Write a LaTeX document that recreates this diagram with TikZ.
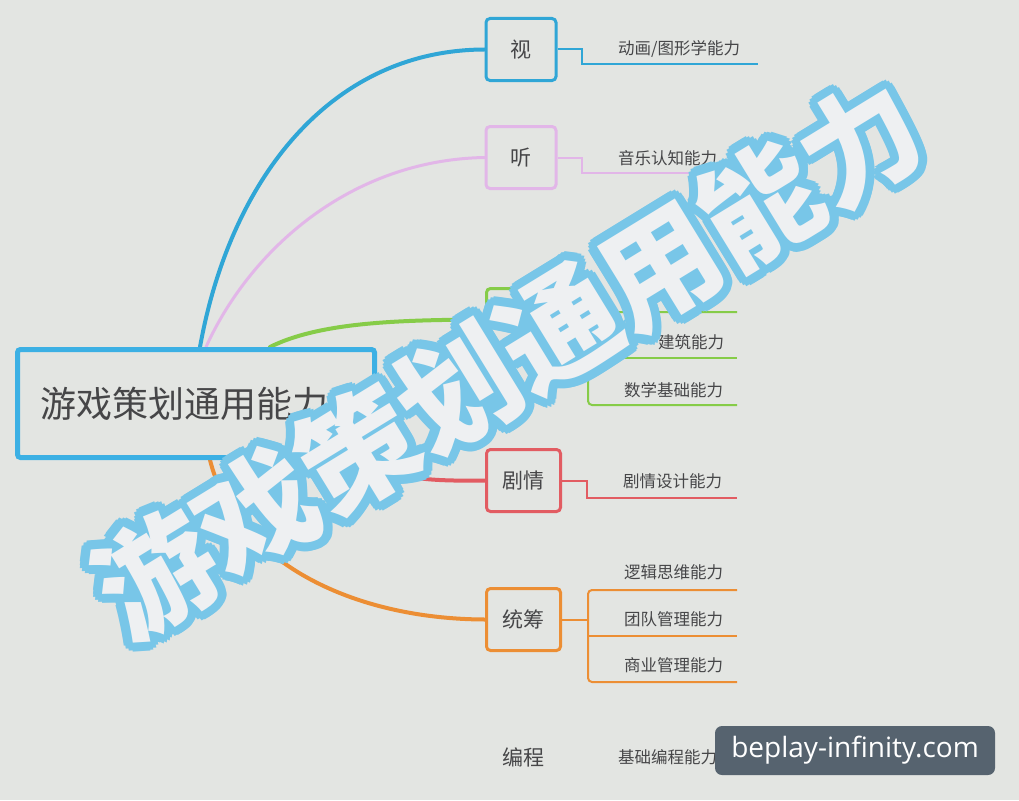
\documentclass[tikz,border=0pt]{standalone}
\usepackage{fontspec}
\setmainfont{Noto Sans CJK SC}
\newfontfamily\cjk{Noto Sans CJK SC}
\newfontfamily\badgefont{Open Sans}
\definecolor{bgc}{RGB}{227,229,226}
\definecolor{txt}{RGB}{70,70,72}
\definecolor{cblue}{RGB}{48,166,214}
\definecolor{croot}{RGB}{60,176,228}
\definecolor{cpink}{RGB}{226,182,232}
\definecolor{cgreen}{RGB}{134,204,72}
\definecolor{cred}{RGB}{226,92,98}
\definecolor{corange}{RGB}{236,142,52}
\definecolor{wmblue}{RGB}{120,198,232}
\definecolor{wmwhite}{RGB}{238,240,242}
\definecolor{badgec}{RGB}{86,99,111}
\pgfdeclarelayer{back}
\pgfsetlayers{back,main}
\tikzset{
  rootbox/.style={draw=croot, line width=5pt, rounded corners=3pt, fill=bgc, text=txt,
    font=\cjk\fontsize{36}{36}\selectfont, minimum width=357pt, minimum height=108pt, inner sep=0pt},
  branchbox/.style={draw=#1, line width=3pt, rounded corners=4pt, fill=bgc, text=txt,
    font=\cjk\fontsize{21}{21}\selectfont, minimum width=70pt, minimum height=62pt, inner sep=0pt},
  wideone/.style={minimum width=74pt},
  plainlabel/.style={text=txt, font=\cjk\fontsize{21}{21}\selectfont, inner sep=0pt},
  leaf/.style={text=txt, font=\cjk\fontsize{16.5}{16.5}\selectfont, inner sep=0pt, anchor=west},
  mainline/.style={draw=#1, line width=4pt, line cap=round},
  subline/.style={draw=#1, line width=2pt},
  wm/.style={font=\cjk\bfseries\fontsize{118}{118}\selectfont, inner sep=0pt, rotate=31.5},
  badge/.style={fill=badgec, rounded corners=7pt, text=white, font=\badgefont\fontsize{28}{28}\selectfont,
    minimum width=280pt, minimum height=49pt, inner sep=0pt}
}
\begin{document}
\begin{tikzpicture}[x=1pt,y=-1pt]
\useasboundingbox (0,0) rectangle (1019,800);

% root
\node[rootbox] (root) at (196,403.5) {\makebox[312pt][l]{游戏策划通用能力}};

% branch boxes
\node[branchbox=cblue] (shi) at (521,49.5) {视};
\node[branchbox=cpink] (ting) at (521,157.5) {听};
\node[branchbox=cgreen, wideone] (kong) at (523.5,319.5) {};
\node[branchbox=cred, wideone] (ju) at (523.5,480.5) {剧情};
\node[branchbox=corange, wideone] (tong) at (523.5,619.5) {统筹};
\node[plainlabel] (bian) at (523.5,757) {编程};

% leaf end coordinates
\coordinate (shiE) at (758,64);
\coordinate (tingE) at (737,173);
\coordinate (k1E) at (737,312);
\coordinate (k2E) at (737,358);
\coordinate (k3E) at (737,405);
\coordinate (juE) at (737,498);
\coordinate (t1E) at (737,590);
\coordinate (t2E) at (737,636);
\coordinate (t3E) at (737,682);

% leaf labels
\node[leaf] (l1) at (618,49) {动画/图形学能力};
\node[leaf] (l2) at (618,158) {音乐认知能力};
\node[leaf] (l4) at (658,342) {建筑能力};
\node[leaf] (l5) at (624,390) {数学基础能力};
\node[leaf] (l6) at (623,481) {剧情设计能力};
\node[leaf] (l7) at (624,572) {逻辑思维能力};
\node[leaf] (l8) at (624,619) {团队管理能力};
\node[leaf] (l9) at (624,665) {商业管理能力};
\node[leaf] (l10) at (618,757) {基础编程能力};

\begin{pgfonlayer}{back}
  \fill[bgc] (0,0) rectangle (1019,800);
  % main curves
  \draw[mainline=cblue] ([xshift=185pt]root.north west) .. controls (230,180) and (330,50) .. (shi.west);
  \draw[mainline=cpink, line width=3pt] ([xshift=191pt]root.north west) .. controls (250,250) and (350,160) .. (ting.west);
  \draw[mainline=cgreen] ([xshift=255pt]root.north west) .. controls (320,322) and (400,320) .. (kong.west);
  \draw[mainline=cred] ([xshift=-30pt]root.south east) .. controls (400,481) and (440,481) .. (ju.west);
  \draw[mainline=corange] ([xshift=195pt]root.south west) .. controls (235,560) and (350,619) .. (tong.west);
  % sub lines
  \draw[subline=cblue] (shi.east) -- (582,49.5) -- (582,64) -- (shiE);
  \draw[subline=cpink] (ting.east) -- (582,157.5) -- (582,173) -- (tingE);
  \draw[subline=cgreen] (kong.east) -- (588,319.5);
  \draw[subline=cgreen, rounded corners=4pt] (k1E) -- (588,312) -- (588,405) -- (k3E);
  \draw[subline=cgreen] (588,358) -- (k2E);
  \draw[subline=cred] (ju.east) -- (587,480.5) -- (587,498) -- (juE);
  \draw[subline=corange] (tong.east) -- (588,619.5);
  \draw[subline=corange, rounded corners=4pt] (t1E) -- (588,590) -- (588,682) -- (t3E);
  \draw[subline=corange] (588,636) -- (t2E);
\end{pgfonlayer}

% watermark
\foreach \a in {0,22.5,...,337.5} {
  \path (508,358) ++(\a:9) node[wm, text=wmblue] {游戏策划通用能力};
  \path (508,358) ++(\a:4.5) node[wm, text=wmblue] {游戏策划通用能力};
}
\node[wm, text=wmwhite] (wmark) at (508,358) {游戏策划通用能力};

% badge
\node[badge] (badge) at (855,750.5) {beplay-infinity.com};
\end{tikzpicture}
\end{document}
